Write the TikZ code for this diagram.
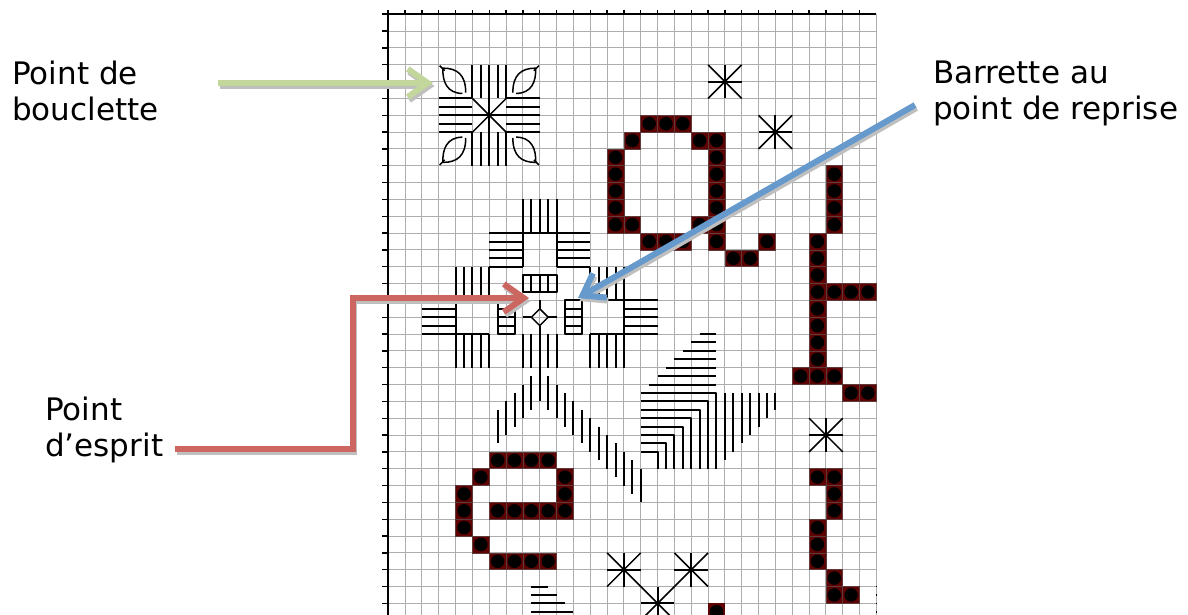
\documentclass[tikz,border=0pt]{standalone}
\usepackage{fontspec}
\usepackage{xcolor}
\usepackage{tikz}
\usetikzlibrary{arrows.meta}
\setmainfont{DejaVu Sans}
\definecolor{GridGrey}{HTML}{ADADAD}
\definecolor{CellMaroon}{HTML}{5E0303}
\definecolor{CellEdge}{HTML}{5F3A3A}
\definecolor{ArrowGreen}{HTML}{C3D69B}
\definecolor{ArrowBlue}{HTML}{6699CC}
\definecolor{ArrowRed}{HTML}{CC6660}
\tikzset{
  gridline/.style={GridGrey,line width=1.05pt},
  axisline/.style={black,line width=2pt},
  stitch/.style={black,line width=2pt,line join=round},
  thinstitch/.style={black,line width=1.5pt,line join=round},
  labeltext/.style={anchor=north west,inner sep=0pt,align=left,font=\fontsize{31}{36.7}\selectfont},
  callout/.style={line width=6pt,-{Straight Barb[length=20pt,width=28pt,line width=6pt]}},
  calloutshadow/.style={callout,black!25},
}
\begin{document}
\begin{tikzpicture}[x=1pt,y=-1pt]
  \useasboundingbox (0,0) rectangle (1188,615);
  \fill[white] (0,0) rectangle (1188,615);
  \begin{scope}[shift={(388.3,14.3)},x=16.83pt,y=-16.83pt]
    \foreach \c in {1,...,29} \draw[gridline] (\c,0) -- (\c,35.7);
    \foreach \r in {1,...,35} \draw[gridline] (0,\r) -- (29,\r);
    \foreach \c/\r in {15/6,16/6,17/6,14/7,18/7,19/7,13/8,19/8,13/9,19/9,13/10,19/10,13/11,19/11,
      13/12,14/12,18/12,19/12,15/13,16/13,17/13,19/13,22/13,20/14,21/14,
      26/9,26/10,26/11,26/12,25/13,25/14,25/15,25/16,26/16,27/16,28/16,25/17,25/18,25/19,25/20,
      24/21,25/21,26/21,27/22,28/22,25/27,26/27,26/28,26/29,25/30,25/31,25/32,26/33,26/34,27/34,
      6/26,7/26,8/26,9/26,5/27,10/27,4/28,10/28,4/29,6/29,7/29,8/29,9/29,10/29,4/30,5/31,6/32,7/32,8/32,9/32}
    {
      \draw[fill=CellMaroon,draw=CellEdge,line width=0.7pt] (\c,\r) rectangle (\c+1,\r+1);
      \fill[black] (\c+0.5,\r+0.5) circle (0.4);
    }
    \fill[CellMaroon] (19,35) rectangle (20,35.7);
    \fill[black] (19.5,35.5) circle (0.4);
    \draw[axisline] (-0.35,0) -- (29,0);
    \draw[axisline] (0,-0.25) -- (0,35.7);
    \foreach \c in {0,...,28} \draw[axisline,line width=1.4pt] (\c,0) -- (\c,-0.25);
    \foreach \r in {0,...,35} \draw[axisline,line width=1.4pt] (0,\r) -- (-0.35,\r);
    \foreach \r in {34,34.5,35,35.5} \fill[black] (28.95,\r-0.05) rectangle (29.05,\r+0.05);
    \foreach \c/\r in {20/4,23/7,26/25,14/33,18/33,16/35}
    {
      \draw[thinstitch] (\c-1,\r-1) -- (\c+1,\r+1);
      \draw[thinstitch] (\c-1,\r+1) -- (\c+1,\r-1);
      \draw[stitch] (\c-1,\r) -- (\c+1,\r);
      \draw[stitch] (\c,\r-1) -- (\c,\r+1);
    }
    \foreach \c in {5,5.5,6,6.5,7}
    {
      \draw[stitch] (\c,3) -- (\c,5);
      \draw[stitch] (\c,7) -- (\c,9);
      \draw[stitch] (3,\c) -- (5,\c);
      \draw[stitch] (7,\c) -- (9,\c);
    }
    \draw[stitch] (5,6) -- (7,6);
    \draw[stitch] (6,5) -- (6,7);
    \draw[thinstitch] (5,5) -- (7,7);
    \draw[thinstitch] (7,5) -- (5,7);
    \foreach \sx/\sy in {1/1,-1/1,1/-1,-1/-1}
    {
      \begin{scope}[shift={(6,6)},xscale=\sx,yscale=\sy]
        \draw[thinstitch] (-1.4,-1.35) .. controls (-1.4,-2.4) and (-1.9,-2.8) .. (-2.75,-2.8)
          .. controls (-2.8,-2) and (-2.5,-1.3) .. (-1.6,-1.3);
        \draw[thinstitch] (-2.95,-2.95) -- (-2.65,-2.65);
      \end{scope}
    }
    \foreach \c in {0,0.5,...,2}
    {
      \draw[stitch] (8+\c,11) -- (8+\c,13);
      \draw[stitch] (8+\c,19) -- (8+\c,21);
      \draw[stitch] (4+\c,15) -- (4+\c,17);
      \draw[stitch] (4+\c,19) -- (4+\c,21);
      \draw[stitch] (12+\c,15) -- (12+\c,17);
      \draw[stitch] (12+\c,19) -- (12+\c,21);
      \draw[stitch] (6,13+\c) -- (8,13+\c);
      \draw[stitch] (10,13+\c) -- (12,13+\c);
      \draw[stitch] (2,17+\c) -- (4,17+\c);
      \draw[stitch] (14,17+\c) -- (16,17+\c);
    }
    \draw[stitch] (8,13) -- (10,13) (8,13) -- (8,15) (10,13) -- (10,15);
    \draw[stitch] (4,17) -- (6,17) (4,17) -- (4,19) -- (6,19);
    \draw[stitch] (12,17) -- (14,17) -- (14,19) -- (12,19);
    \draw[stitch] (8,15.5) rectangle (10,16.5);
    \foreach \c in {8.5,9,9.5} \draw[stitch] (\c,15.5) -- (\c,16.5);
    \foreach \c in {6.5,10.5}
    {
      \draw[stitch] (\c,17) rectangle (\c+1,19);
      \foreach \r in {17.5,18,18.5} \draw[stitch] (\c,\r) -- (\c+1,\r);
    }
    \draw[thinstitch] (9,17.5) -- (9.5,18) -- (9,18.5) -- (8.5,18) -- cycle;
    \draw[stitch] (8,18) -- (8.5,18) (9.5,18) -- (10,18) (9,17) -- (9,17.5) (9,18.5) -- (9,23);
    \foreach \c/\a/\b in {6.5/23.5/25.5,7/23/25,7.5/22.5/24.5,8/22/24,8.5/21.5/23.5,
      9.5/21.5/23.5,10/22/24,10.5/22.5/24.5,11/23/25,11.5/23.5/25.5,12/24/26,12.5/24.5/26.5,
      13/25/27,13.5/25.5/27.5,14/26/28,14.5/26.5/28.5,15/27/29}
      \draw[stitch] (\c,\a) -- (\c,\b);
    \foreach \r/\c in {19/18.5,19.5/18,20/17.5,20.5/17,21/16.5,21.5/16,22/15.5}
      \draw[stitch] (\c,\r) -- (19.5,\r);
    \foreach \r/\c in {22.5/19.5,23/19,23.5/18.5,24/18,24.5/17.5,25/17,25.5/16.5,26/16}
      \draw[stitch] (15,\r) -- (\c,\r) -- (\c,27);
    \foreach \c/\b in {20/26.5,20.5/26,21/25.5,21.5/25,22/24.5,22.5/24,23/23.5}
      \draw[stitch] (\c,22.5) -- (\c,\b);
    \foreach \r/\c in {34/9.5,34.5/10,35/10.5,35.5/11}
      \draw[stitch] (8.5,\r) -- (\c,\r);
  \end{scope}
  \node[labeltext] (bouclette) at (12,60.5) {Point de\\bouclette};
  \node[labeltext] (esprit) at (45,396.5) {Point\\d’esprit};
  \node[labeltext] (barrette) at (933,60.5) {Barrette au\\point de reprise};
  \coordinate (greenstart) at (218,83);
  \coordinate (greentip) at (433,83);
  \coordinate (redstart) at (175,449);
  \coordinate (redbend) at (352.5,449);
  \coordinate (redknee) at (352.5,298);
  \coordinate (redtip) at (529,298);
  \coordinate (bluestart) at (915,105);
  \coordinate (bluetip) at (578,298);
  \begin{scope}[transform canvas={xshift=1.5pt,yshift=-3pt}]
    \draw[calloutshadow] (greenstart) -- (greentip);
    \draw[calloutshadow] (redstart) -- (redbend) -- (redknee) -- (redtip);
    \draw[calloutshadow] (bluestart) -- (bluetip);
  \end{scope}
  \draw[callout,ArrowGreen] (greenstart) -- (greentip);
  \draw[callout,ArrowRed] (redstart) -- (redbend) -- (redknee) -- (redtip);
  \draw[callout,ArrowBlue] (bluestart) -- (bluetip);
\end{tikzpicture}
\end{document}
